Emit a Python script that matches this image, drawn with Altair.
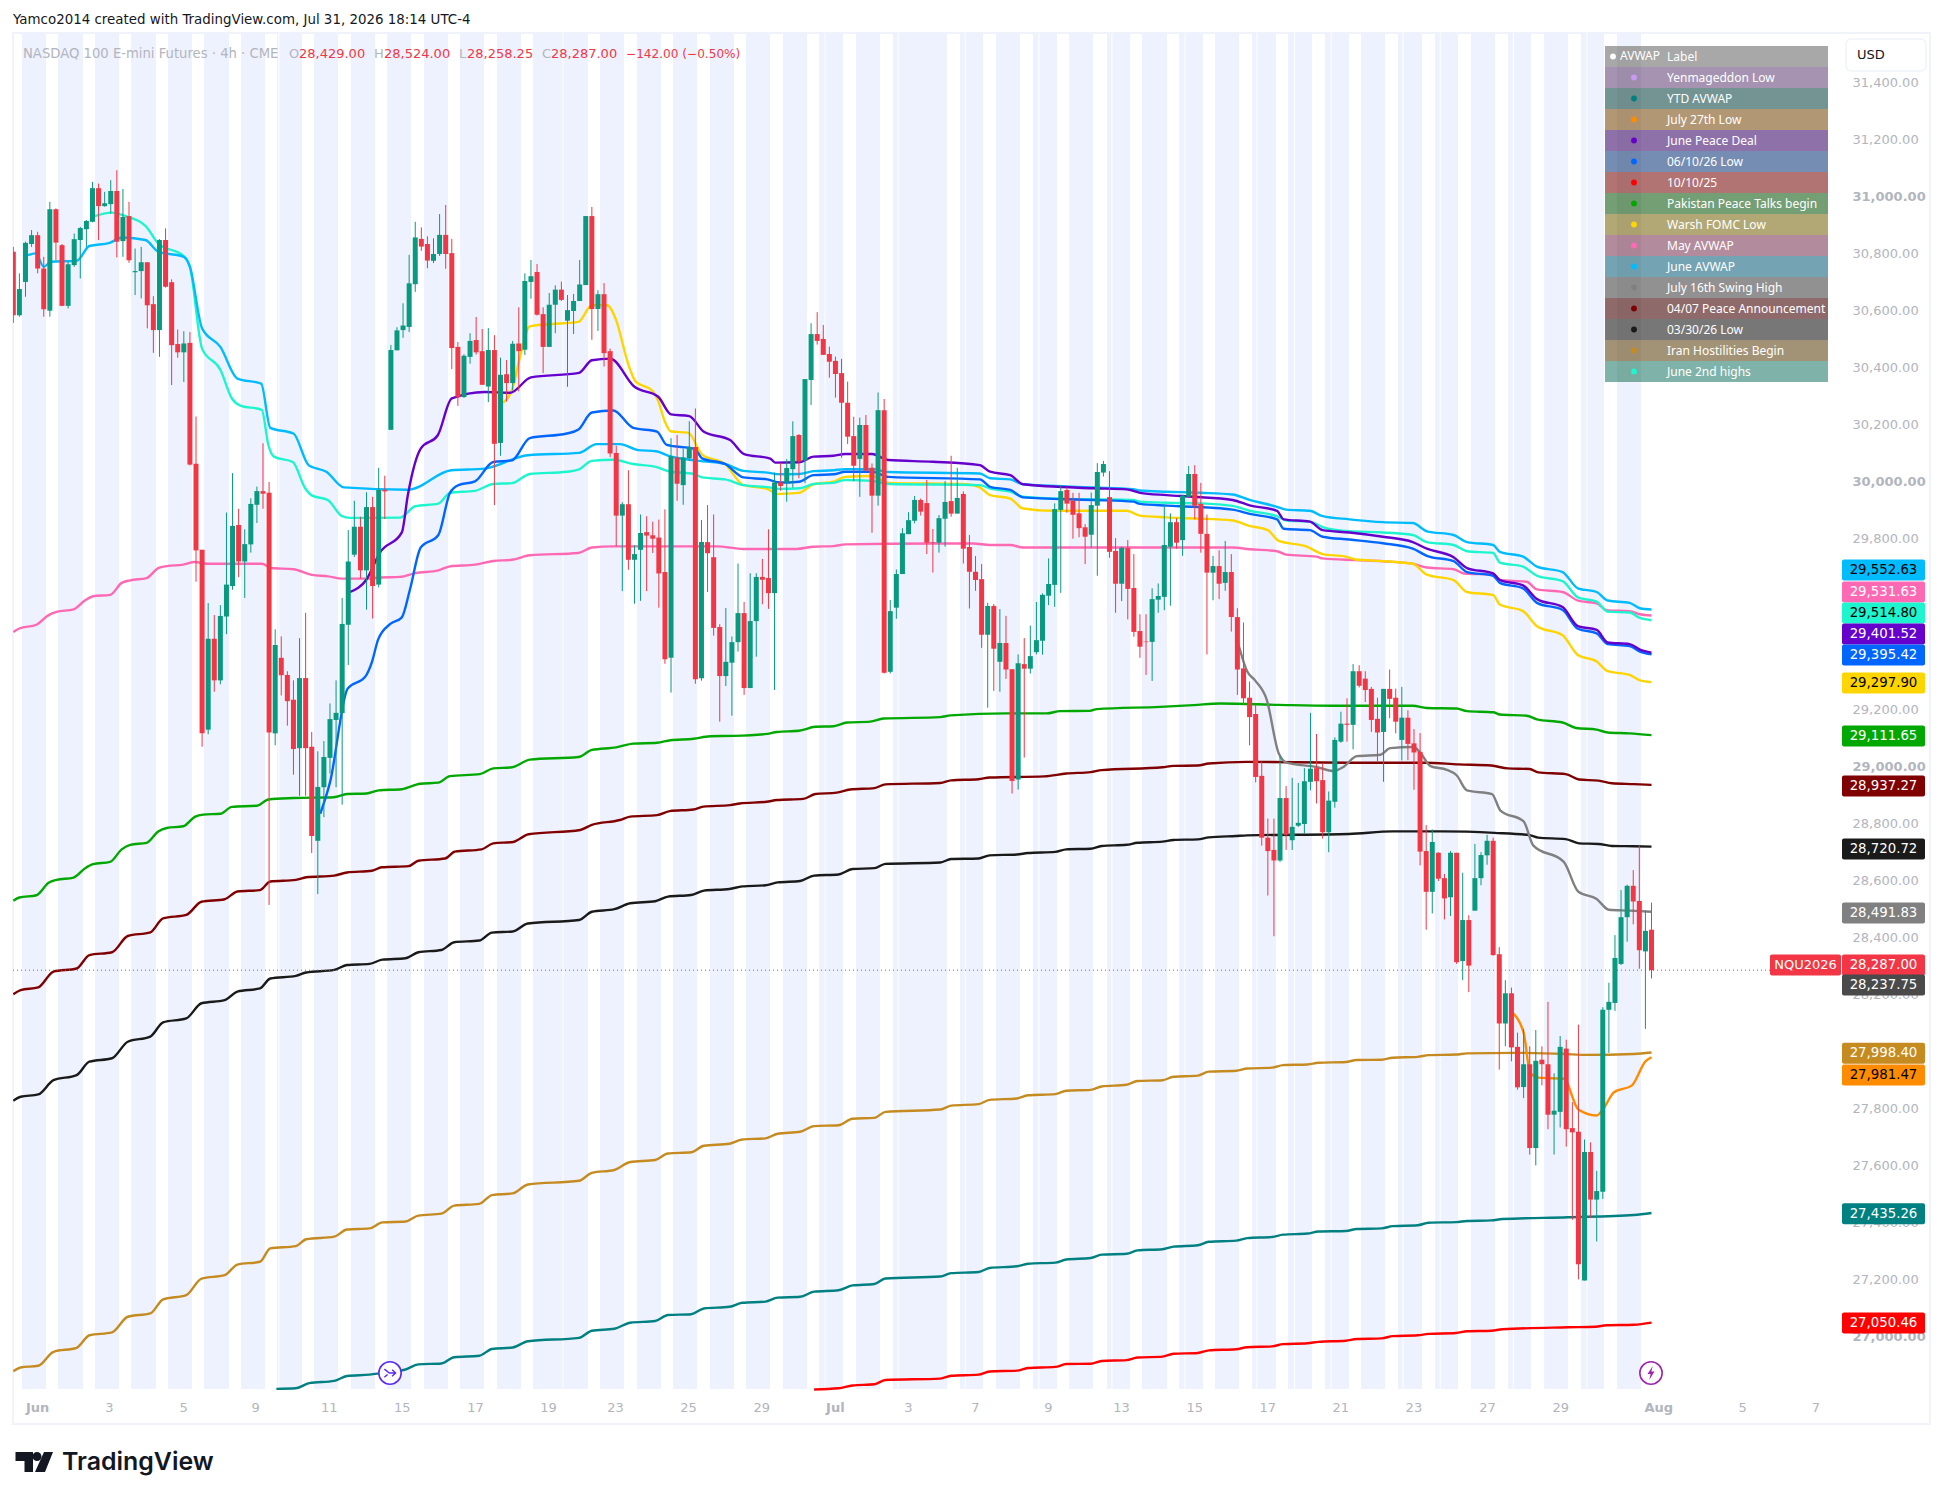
import altair as alt
import pandas as pd

# ---------- candles (NQU2026, 4h) ----------
opens = [30808,30585,30702,30835,30866,30749,30601,30957,30831,30618,
30761,30849,30887,30913,31031,30968,30975,31021,30845,30933,
30736,30740,30771,30624,30533,30849,30701,30484,30455,30488,
30064,29762,29131,29450,29304,29528,29635,29849,29721,29781,
29920,29968,29962,29118,29383,29323,29236,29066,29312,29071,
28741,28929,29032,29165,29189,29499,29745,29843,29690,29912,
29640,29972,30183,30462,30533,30544,30694,30853,30835,30776,
30800,30867,30803,30474,30298,30439,30498,30459,30335,30463,
30137,30378,30347,30486,30464,30702,30737,30589,30474,30622,
30675,30566,30600,30635,30691,30933,30607,30659,30459,30102,
29882,29922,29727,29762,29824,29813,29805,29684,29383,30086,
29989,30083,30123,29311,29789,29736,29491,29319,29366,29438,
29540,29277,29512,29667,29663,29610,29998,29998,30045,30165,
30076,30358,30519,30502,30449,30425,30382,30278,30161,30081,
30200,30050,29952,30252,29334,29559,29677,29817,29864,29937,
29926,29789,29787,29871,29933,29889,29958,29772,29685,29659,
29464,29565,29369,29435,29343,28956,29361,29345,29403,29443,
29601,29639,29902,29972,29934,29890,29841,29815,29917,30033,
29947,29758,29643,29768,29628,29477,29440,29439,29587,29597,
29773,29859,29796,29948,30028,29923,29818,29682,29705,29646,
29684,29526,29346,29243,29186,28969,28752,28709,28672,28891,
28743,28794,28800,28948,28996,28954,28771,28878,29089,29152,
29148,29336,29310,29274,29169,29123,29274,29243,29095,29173,
29083,29053,28705,28562,28699,28610,28543,28699,28319,28463,
28496,28610,28690,28741,28343,28100,28206,28018,27877,27957,
27663,27973,27957,27780,27790,28012,27733,27720,27198,27649,
27482,27510,28148,28172,28309,28473,28583,28530,28353,28429]
highs = [30825,30732,30843,30884,30878,30790,30983,30960,30835,30773,
30872,30895,30919,31053,31047,31018,31059,31094,31028,30983,
30819,30825,30771,30652,30852,30890,30711,30535,30529,30526,
30230,29762,29575,29533,29568,29893,30031,29906,29834,29943,
29984,30136,30000,29483,29458,29336,29304,29452,29541,29123,
29055,29091,29223,29304,29593,29831,29934,29878,29964,29948,
30050,30022,30481,30543,30627,30797,30913,30893,30862,30855,
30940,30972,30853,30491,30448,30522,30579,30537,30540,30515,
30436,30428,30495,30613,30732,30779,30765,30613,30663,30690,
30703,30656,30660,30779,30933,30965,30673,30698,30468,30127,
29929,30041,29778,29886,29880,29861,29868,29904,30154,30165,
30117,30213,30258,29867,29919,29886,29501,29558,29458,29714,
29579,29680,29680,29730,29834,30033,30067,30080,30213,30168,
30361,30557,30596,30551,30475,30440,30432,30352,30229,30226,
30235,30065,30314,30291,29586,29693,29838,29894,29951,29942,
30007,29835,29884,30003,30092,30050,29967,29814,29740,29712,
29576,29572,29554,29530,29343,29395,29452,29496,29579,29609,
29732,29925,29989,29981,29962,29962,29852,29963,30066,30074,
30038,29803,29773,29796,29747,29536,29536,29627,29644,29920,
29890,29873,29954,30056,30059,29997,29886,29741,29760,29793,
29747,29557,29507,29300,29222,29019,28819,28819,29038,28933,
28962,28944,28996,29190,29116,29013,28914,29104,29194,29241,
29361,29357,29336,29281,29243,29274,29342,29275,29281,29199,
29133,29119,28796,28781,28701,28625,28705,28699,28629,28480,
28730,28701,28762,28752,28368,28252,28226,28068,28081,28020,
28077,28020,28176,27925,28056,28043,27824,28096,27693,27683,
27583,28157,28243,28410,28568,28587,28638,28724,28496,28524]
lows = [30558,30580,30650,30825,30732,30580,30580,30778,30617,30609,
30755,30714,30825,30911,30849,30966,30942,30788,30790,30769,
30656,30644,30539,30453,30439,30682,30340,30436,30351,30058,
29650,29071,29115,29264,29290,29466,29622,29666,29593,29752,
29856,29906,28516,29076,29251,29145,28973,28899,28899,28698,
28554,28824,28977,28929,28868,29358,29737,29662,29552,29521,
29630,29870,30183,30462,30506,30526,30667,30811,30750,30768,
30793,30748,30396,30267,30295,30415,30447,30341,30280,29919,
30092,30282,30321,30318,30446,30643,30584,30382,30474,30522,
30635,30334,30519,30635,30691,30499,30530,30405,30087,29774,
29617,29692,29573,29583,29617,29751,29559,29362,29261,29934,
29920,30074,29292,29303,29614,29461,29159,29284,29180,29405,
29253,29277,29387,29571,29555,29270,29969,29931,29980,30013,
29996,30270,30482,30446,30366,30296,30085,30133,30003,29948,
30036,29822,29917,29328,29328,29520,29677,29817,29855,29882,
29747,29682,29752,29773,29878,29889,29714,29556,29618,29418,
29208,29267,29264,29309,28907,28921,29033,29328,29395,29394,
29568,29562,29611,29892,29801,29806,29712,29769,29671,30019,
29734,29541,29582,29518,29457,29383,29323,29302,29541,29550,
29566,29766,29741,29948,29869,29752,29395,29585,29589,29618,
29475,29253,29218,29076,28946,28724,28549,28406,28667,28709,
28709,28790,28766,28918,28872,28749,28701,28857,29085,29089,
29062,29279,29228,29123,29019,28948,29171,29118,29023,29024,
28920,28655,28429,28486,28600,28465,28477,28309,28252,28210,
28496,28585,28657,28338,27938,28020,27967,27868,27838,27640,
27602,27883,27729,27640,27735,27668,27411,27202,27198,27417,
27335,27484,27997,28144,28305,28387,28448,28292,28081,28258.25]
closes = [30585,30677,30839,30866,30749,30606,30957,30840,30618,30764,
30852,30891,30916,31031,30968,30978,31021,30843,30930,30778,
30740,30771,30620,30533,30849,30685,30480,30455,30486,30061,
29760,29118,29450,29304,29530,29640,29846,29721,29782,29923,
29968,29959,29121,29428,29322,29231,29063,29312,29066,28758,
28930,29035,29168,29190,29502,29721,29843,29690,29912,29635,
29972,29967,30463,30532,30549,30697,30858,30826,30777,30800,
30867,30800,30470,30297,30443,30495,30455,30341,30463,30134,
30376,30347,30485,30459,30705,30722,30587,30474,30622,30675,
30639,30603,30635,30693,30933,30607,30659,30452,30100,29882,
29922,29727,29747,29821,29812,29801,29679,29378,30090,29994,
30086,30123,29308,29789,29750,29488,29319,29369,29438,29540,
29277,29512,29667,29657,29610,29998,29986,30049,30161,30072,
30361,30519,30495,30446,30422,30379,30278,30159,30057,30200,
30040,29952,30252,29331,29547,29677,29820,29866,29937,29896,
29787,29787,29873,29930,29889,29944,29766,29685,29656,29464,
29565,29415,29435,29342,28951,29364,29345,29389,29445,29604,
29642,29905,29968,29924,29885,29838,29808,29919,30035,30063,
29755,29643,29769,29625,29474,29422,29438,29589,29600,29779,
29859,29787,29952,30028,29917,29818,29682,29705,29643,29684,
29526,29342,29241,29175,28965,28752,28705,28672,28891,28762,
28790,28804,28950,28994,28950,28771,28882,29095,29152,29148,
29336,29285,29270,29165,29121,29274,29239,29159,29173,29081,
29051,28703,28562,28737,28608,28539,28699,28315,28463,28303,
28610,28691,28741,28340,28100,28206,28016,27876,27957,27663,
27969,27957,27780,27794,28018,27729,27718,27255,27649,27482,
27512,28148,28176,28330,28473,28583,28528,28357,28425,28287]

# ---------- AVWAP lines: (bar number, price) ----------
june_highs = [(13,30930),(16.2,30945),(18,30936),(21.7,30899),(23.8,30837),(28,30792),(29,30755),(31,30468),(34,30394),(35.9,30293),(37.2,30269),(40.8,30253),(41.9,30128),(42.8,30089),(45.9,30070),(47.9,29979),(49,29953),(51.7,29936),(53.9,29881),(55.3,29874),(63.5,29875),(66,29915),(69.8,29924),(71.7,29962),(75.8,29969),(78.8,29993),(81.9,29996),(84.8,30028),(90.9,30036),(92.8,30043),(95,30074),(98.5,30078),(101.8,30063),(105.5,30053),(107.9,30036),(111.7,30029),(113.1,30016),(116.9,30009),(119.9,29989),(123.8,29982),(125.9,29976),(129.2,29978),(131.4,29993),(134.7,29997),(136.6,30007),(141,30004),(143.7,29993),(158.7,29989),(160.4,29977),(163.7,29966),(165.8,29948),(170.7,29942),(177.3,29939),(183.9,29937),(185,29931),(189.4,29927),(195,29925),(200.2,29916),(203,29899),(207.5,29880),(209,29865),(212.9,29861),(215,29842),(219.4,29827),(224.9,29823),(229.8,29814),(232.1,29789),(236.5,29779),(238.7,29757),(243,29751),(244.1,29717),(247.9,29703),(250.2,29671),(254.4,29652),(256.9,29595),(260,29580),(261.8,29545),(265.4,29542),(267.1,29523),(269,29515)]
june_avwap = [(2.4,30796),(3.7,30802),(5,30755),(6.2,30773),(10.4,30776),(12.5,30828),(15.8,30839),(17.9,30858),(21.7,30849),(23.8,30808),(28,30790),(29,30755),(31,30539),(34,30474),(36.8,30363),(40.7,30345),(42.2,30190),(46,30170),(48.5,30059),(51.4,30036),(54.3,29981),(64.8,29973),(71.9,30041),(77.4,30047),(84.5,30094),(92.9,30102),(95.8,30133),(99.6,30133),(102.6,30112),(105.5,30108),(107.9,30090),(111.9,30076),(116.9,30063),(119.9,30039),(123.8,30033),(125.9,30027),(129,30028),(131.4,30038),(134.7,30041),(136.6,30045),(141,30045),(143.7,30035),(158.7,30030),(160.4,30013),(163.7,30009),(165.8,29992),(177.3,29981),(183.9,29975),(185,29970),(189.4,29966),(195,29962),(200.2,29956),(203,29937),(207.5,29913),(209,29903),(212.9,29899),(215,29880),(219.4,29869),(224.9,29859),(229.8,29856),(232.1,29827),(236.5,29814),(238.7,29789),(243,29779),(244.1,29755),(247.9,29738),(250.2,29703),(254.4,29684),(256.9,29627),(260,29614),(261.8,29584),(265.4,29576),(267.1,29557),(269,29552.63)]
peace_deal = [(55.3,29614),(58,29658),(60.2,29752),(63.8,29823),(64.8,29956),(66.9,30117),(69.7,30164),(72,30293),(77.4,30316),(81.6,30313),(85,30367),(92.9,30383),(95,30427),(98,30433),(102,30334),(105.9,30299),(108,30237),(111,30231),(113.4,30176),(117.7,30147),(120,30098),(124.3,30082),(125.1,30068),(129,30069),(131.4,30089),(134.7,30092),(136.6,30098),(141,30098),(143.7,30077),(151,30071),(158.7,30059),(160.4,30036),(163.7,30024),(165.8,29992),(177.3,29978),(182.8,29974),(185,29962),(189.4,29954),(193.8,29948),(200.2,29937),(203,29918),(207.5,29899),(208.6,29869),(212.9,29861),(215,29831),(219.4,29823),(224.9,29808),(229.8,29789),(232.1,29766),(236.5,29736),(238.7,29698),(243,29679),(244.1,29656),(247.9,29637),(250.2,29589),(254.4,29561),(256.9,29494),(260,29481),(261.8,29437),(265.4,29431),(267.1,29412),(269,29401.52)]
low_0610 = [(50.4,28836),(52,28946),(54.9,29275),(57.8,29317),(58.9,29369),(59.9,29447),(61.9,29502),(63.8,29525),(65.1,29620),(66.9,29770),(69.8,29814),(71.7,29962),(73.1,29989),(75.8,30002),(78.8,30070),(81.9,30076),(84.8,30154),(90.9,30170),(92.8,30184),(95,30244),(98.5,30251),(101.8,30190),(105.7,30177),(107.3,30130),(111.9,30116),(113.1,30083),(116.9,30063),(119.9,30016),(123.8,30009),(125.9,29998),(129,30001),(131.4,30024),(134.7,30027),(136.6,30036),(141,30036),(143.7,30018),(158.7,30009),(160.4,29983),(163.7,29972),(165.8,29946),(177.3,29937),(183.9,29931),(185,29923),(189.4,29917),(193.8,29913),(200.2,29903),(203,29888),(207.5,29869),(208.6,29836),(212.9,29831),(215,29808),(219.4,29798),(224.9,29785),(229.8,29766),(232.1,29741),(236.5,29722),(238.7,29684),(243,29671),(244.1,29646),(247.9,29627),(250.2,29576),(254.4,29551),(256.9,29485),(260,29469),(261.8,29431),(265.4,29424),(267.1,29405),(269,29395.42)]
warsh = [(80.4,30278),(82,30331),(83.2,30439),(84.8,30546),(87.6,30553),(92.8,30562),(95,30620),(97.5,30620),(98.9,30573),(101,30412),(102.2,30352),(104.9,30321),(105.9,30284),(107,30211),(108,30177),(110.8,30173),(113.1,30096),(116.9,30063),(119.9,29989),(123.8,29976),(125.4,29958),(129,29962),(131.4,29992),(134.7,30001),(136.6,30018),(141,30021),(143.7,29997),(156.6,29992),(158.7,29981),(160.4,29954),(163.7,29942),(165.8,29907),(170.7,29899),(182.8,29899),(185,29882),(189.4,29876),(193.8,29872),(200.2,29865),(203,29846),(206,29831),(207.8,29793),(212.3,29774),(215,29747),(218.8,29738),(220.4,29728),(225.3,29722),(229.8,29713),(232.1,29675),(236.5,29656),(238.7,29614),(243,29603),(244.1,29570),(247.9,29547),(250.2,29494),(254.4,29462),(256.9,29393),(260,29370),(261.8,29336),(265.4,29323),(267.1,29304),(269,29297.9)]
may_avwap = [(0,29474),(1,29486),(3.8,29499),(5.8,29533),(7.1,29544),(9.9,29553),(11.8,29585),(13.1,29599),(15.9,29604),(17.8,29646),(19.2,29655),(21.9,29663),(23.8,29698),(25.2,29705),(27.9,29710),(29.8,29719),(31.8,29713),(40.8,29713),(42.4,29698),(46,29694),(49,29674),(51.7,29669),(54,29661),(58,29661),(60.2,29665),(63.5,29667),(66,29680),(69.8,29690),(71.7,29704),(75.8,29710),(78.8,29723),(81.9,29727),(84.8,29743),(92.8,29751),(95,29770),(98.5,29774),(115.5,29774),(119.9,29765),(128.6,29765),(131.4,29773),(134.7,29775),(136.6,29781),(151,29784),(157.6,29784),(160.4,29779),(163.7,29779),(165.8,29770),(183.9,29770),(200.2,29770),(203,29764),(207.5,29757),(209,29745),(214,29738),(215,29732),(220.4,29726),(224.9,29722),(229.8,29713),(232.1,29700),(236.5,29694),(238.2,29679),(243,29675),(244.1,29656),(248.5,29650),(250.2,29623),(254.4,29614),(256.9,29584),(260,29574),(261.8,29549),(265.4,29547),(267.1,29536),(269,29531.63)]
pakistan = [(0,28531),(1,28542),(3.8,28550),(5.8,28594),(7.1,28604),(9.9,28612),(11.8,28645),(13.1,28659),(15.9,28667),(17.8,28711),(19.2,28727),(21.9,28734),(23.8,28774),(25.2,28786),(27.9,28792),(29.8,28825),(31.2,28833),(34,28836),(35.9,28860),(40,28864),(41.9,28886),(46,28891),(52.6,28894),(54.8,28905),(58,28907),(60,28918),(63.8,28922),(66.8,28941),(69.8,28945),(71.7,28968),(76.6,28975),(78.8,28995),(81.9,28999),(84.8,29026),(92.8,29035),(95,29060),(99,29069),(101.8,29082),(105.7,29085),(107.9,29094),(111.7,29099),(114.4,29108),(118.3,29109),(123.8,29116),(125.4,29123),(129,29127),(131.7,29141),(134.7,29143),(136.9,29156),(140.7,29159),(142.9,29170),(152.2,29175),(153.9,29181),(163.1,29188),(169.7,29188),(171.9,29196),(176.8,29197),(177.9,29203),(188.3,29211),(193.8,29217),(198.2,29223),(207.8,29218),(216.6,29215),(229.8,29215),(232.1,29207),(237,29205),(238.7,29196),(243,29192),(244.1,29184),(248.5,29180),(250.2,29167),(254.4,29156),(256.6,29137),(260,29131),(261.8,29121),(265.4,29118),(269,29111.65)]
peace_0407 = [(0,28203),(1.2,28217),(4.1,28227),(6.6,28282),(10.4,28293),(12.5,28340),(16.2,28350),(18.8,28407),(22.5,28420),(24.6,28469),(28.4,28481),(30.9,28527),(34.7,28536),(36.8,28563),(40.5,28568),(42.2,28598),(46.4,28604),(48.1,28613),(52.7,28619),(54.8,28630),(58.9,28636),(60.5,28648),(64.9,28652),(66.5,28671),(70.9,28679),(72.5,28703),(76.9,28711),(78.8,28732),(82.1,28737),(84.6,28764),(93.1,28779),(95,28797),(99.6,28814),(101.3,28826),(105.7,28831),(107.8,28845),(111.7,28851),(113.3,28861),(117.7,28866),(119.3,28872),(123.7,28878),(125.4,28884),(129.7,28888),(131.7,28905),(135.2,28910),(137.4,28921),(141.4,28926),(143.2,28939),(152.2,28944),(154,28953),(158.5,28957),(160.3,28963),(169.3,28967),(172.9,28977),(176.9,28982),(178.7,28989),(188.7,28999),(190.5,29004),(194.5,29005),(196.3,29012),(202.6,29018),(219.3,29015),(231.9,29015),(237.3,29009),(242.7,29005),(245.4,28995),(249,28993),(250.4,28981),(254.9,28975),(257.1,28956),(260.3,28952),(262.5,28943),(266.1,28940),(269,28937.27)]
low_0330 = [(0,27829),(1.2,27843),(4.1,27851),(6.6,27901),(10.4,27919),(12.5,27966),(16.2,27978),(18.8,28036),(22.5,28054),(24.6,28104),(28.4,28118),(30.9,28171),(34.7,28182),(36.8,28212),(40.5,28223),(42.2,28258),(46.4,28267),(48.1,28279),(52.7,28288),(54.8,28305),(58.5,28309),(60.6,28324),(64.4,28329),(66.5,28350),(70.3,28358),(72.4,28385),(76.5,28391),(78.6,28419),(82,28423),(84.5,28451),(92.9,28463),(95,28492),(98.7,28501),(101.3,28522),(105.4,28529),(107.5,28545),(111.3,28551),(113.4,28566),(117.6,28572),(119.7,28581),(123.5,28585),(125.5,28595),(129.2,28600),(131.5,28619),(135.5,28623),(137.8,28642),(141.4,28645),(143.2,28660),(152.2,28665),(154,28677),(158.5,28679),(160.3,28690),(164.8,28693),(166.6,28698),(171.1,28702),(172.9,28711),(176.9,28713),(178.7,28723),(182.8,28727),(184.6,28734),(188.7,28738),(190.5,28744),(194.5,28746),(196.3,28753),(200.8,28758),(202.6,28760),(219.3,28765),(226.5,28774),(234.6,28774),(243.2,28769),(249,28761),(250.4,28752),(254.9,28747),(257.1,28732),(260.3,28730),(262.5,28723),(266.1,28722),(269,28720.72)]
iran = [(0,26880),(1.2,26893),(4.1,26899),(6.6,26948),(10.4,26962),(12.5,27006),(16.2,27016),(18.8,27071),(22.5,27083),(24.6,27132),(28.4,27147),(30.9,27205),(34.7,27217),(36.8,27254),(40.5,27264),(42.2,27311),(46.4,27319),(48.1,27343),(52.7,27352),(54.8,27377),(58.5,27381),(60.6,27402),(64.4,27405),(66.5,27426),(70.3,27433),(72.4,27461),(76.5,27467),(78.6,27498),(82,27504),(84.5,27535),(92.9,27548),(95,27576),(98.7,27586),(101.3,27614),(105.4,27621),(107.5,27644),(111.3,27648),(113.4,27671),(117.6,27678),(119.7,27693),(123.5,27697),(125.5,27713),(129.2,27720),(131.5,27740),(135.5,27743),(137.8,27766),(141.4,27769),(143.2,27790),(152.2,27798),(154,27812),(158.5,27817),(160.3,27832),(164.8,27837),(166.6,27848),(171.1,27852),(172.9,27864),(176.9,27867),(178.7,27879),(182.8,27885),(184.6,27898),(188.7,27901),(190.5,27913),(194.5,27917),(196.3,27931),(200.8,27934),(202.6,27942),(206.7,27945),(208.5,27954),(212.5,27956),(214.3,27962),(218.8,27965),(220.6,27972),(224.7,27973),(226.5,27980),(230.6,27983),(232.4,27989),(236.9,27991),(238.7,27995),(246.3,27997),(254.9,27993),(258,27990),(266.1,27993),(269,27998.4)]
ytd = [(43.2,26818),(46.4,26820),(48.6,26838),(52.7,26846),(54.8,26863),(58.5,26868),(62,26878),(64.4,26886),(66.5,26904),(70.3,26907),(72.4,26929),(76.5,26934),(78.6,26958),(82,26963),(84.5,26985),(92.9,26997),(95,27022),(98.7,27029),(101.3,27050),(105.4,27056),(107.5,27077),(111.3,27080),(113.4,27100),(117.6,27106),(119.7,27120),(123.5,27124),(125.5,27138),(129.2,27141),(131.5,27159),(135.5,27164),(137.8,27181),(141.4,27186),(143.2,27205),(152.2,27212),(154,27224),(158.5,27228),(160.3,27242),(164.8,27248),(166.6,27257),(171.1,27261),(172.9,27272),(176.9,27277),(178.7,27289),(182.8,27292),(184.6,27304),(188.7,27308),(190.5,27317),(194.5,27322),(196.3,27334),(200.8,27338),(202.6,27347),(206.7,27351),(208.5,27359),(212.5,27363),(214.3,27370),(218.8,27372),(220.6,27379),(224.7,27381),(226.5,27389),(230.6,27392),(232.4,27401),(236.9,27403),(238.7,27407),(242.7,27409),(244.5,27414),(255.3,27420),(266.1,27428),(269,27435.26)]
oct_1010 = [(131.5,26816),(135.5,26820),(137.8,26830),(141.4,26834),(143.2,26849),(152.2,26854),(154,26864),(158.5,26868),(160.3,26879),(164.8,26882),(166.6,26891),(171.1,26895),(172.9,26905),(176.9,26906),(178.7,26916),(182.8,26919),(184.6,26928),(188.7,26931),(190.5,26941),(194.5,26944),(196.3,26953),(200.8,26957),(202.6,26964),(206.7,26967),(208.5,26975),(212.5,26978),(214.3,26983),(218.8,26987),(220.6,26993),(224.7,26995),(226.5,27003),(230.6,27006),(232.4,27011),(236.9,27014),(238.7,27020),(242.7,27022),(244.5,27027),(255.3,27034),(259.8,27036),(261.6,27041),(266.1,27043),(269,27050.46)]
swing_0716 = [(201.2,29428),(202.6,29336),(203.9,29304),(205.8,29237),(207.8,29047),(209.1,29015),(214,29000),(216.8,28986),(218.4,29000),(220.6,29038),(224.5,29043),(226.1,29066),(229.9,29070),(231,29051),(232.7,29003),(235.4,28990),(237,28971),(238.7,28918),(242.8,28905),(244.2,28847),(248,28809),(249.6,28724),(254.6,28667),(257,28562),(260,28537),(262,28499),(265.5,28496),(269,28491.83)]
low_0727 = [(245.8,28144),(248,28068),(249.1,27925),(250.5,27910),(254.6,27906),(257,27798),(260,27777),(261.1,27801),(262.8,27858),(265.8,27883),(268,27967),(269,27981.47)]

line_series = [("04/07 Peace Announcement", peace_0407, "#800000"),
               ("03/30/26 Low", low_0330, "#1A1A1A"),
               ("Iran Hostilities Begin", iran, "#C68B20"),
               ("YTD AVWAP", ytd, "#008080"),
               ("10/10/25", oct_1010, "#FF0000"),
               ("Pakistan Peace Talks begin", pakistan, "#00A800"),
               ("May AVWAP", may_avwap, "#FF69B4"),
               ("July 16th Swing High", swing_0716, "#808080"),
               ("July 27th Low", low_0727, "#FF8C00"),
               ("Warsh FOMC Low", warsh, "#FFD500"),
               ("June 2nd highs", june_highs, "#1DF5CE"),
               ("June AVWAP", june_avwap, "#00BCFF"),
               ("06/10/26 Low", low_0610, "#0066FF"),
               ("June Peace Deal", peace_deal, "#6600CC")]

# ---------- session shading, in bar numbers ----------
band_start = [1.43,7.34,13.41,19.33,25.4,31.31,37.39,43.3,49.38,55.45,61.36,67.44,73.35,79.43,85.34,96.34,102.42,108.33,114.4,120.31,126.39,132.3,138.38,144.45,155.45,161.37,167.44,173.36,179.6,185.33,191.41,197.32,203.4,209.31,215.39,221.3,227.38,233.45,239.37,245.44,251.36,257.42,263.34]
band_end = [5.37,11.45,17.36,23.43,29.34,35.42,41.33,47.41,53.32,59.39,65.3,71.38,77.29,83.37,94.37,100.28,106.36,112.27,118.34,124.25,130.33,136.24,142.32,153.32,159.23,165.31,171.38,177.3,183.4,189.44,195.35,201.26,207.34,213.25,219.33,225.24,231.32,237.23,243.31,249.22,255.3,261.2,267.28]
session_breaks = [43.6,90.26,133.3,145.3,156.3,168.4,180.4,192.4,204.2,210.4,216.4,228.2,234.3,246.3,258.4]

# ---------- axes ----------
x_tick_bars = [3.9,15.7,27.9,39.7,51.8,63.8,75.8,87.8,98.8,110.8,122.8,134.9,146.9,157.9,169.9,181.9,193.9,205.9,217.9,229.9,242,254,270.1,283.9,295.9]
x_tick_text = ["Jun","3","5","9","11","15","17","19","23","25","29","Jul","3","7","9","13","15","17","21","23","27","29","Aug","5","7"]
y_ticks = list(range(27000, 31600, 200))

# ---------- legend table ----------
legend_names = ["Label","Yenmageddon Low","YTD AVWAP","July 27th Low","June Peace Deal","06/10/26 Low","10/10/25","Pakistan Peace Talks begin","Warsh FOMC Low","May AVWAP","June AVWAP","July 16th Swing High","04/07 Peace Announcement","03/30/26 Low","Iran Hostilities Begin","June 2nd highs"]
legend_fill = ["#A5A5A5","#A290AE","#708F8F","#AF9470","#8B6CA7","#7189B0","#B06E6E","#6F9B70","#AFA571","#AF8799","#70A1B1","#8D8D8D","#8B6566","#737373","#A08F72","#7BB0A5"]
legend_dot = ["#FFFFFF","#C79BF2","#008080","#FF8C00","#6600CC","#0066FF","#FF0000","#00A800","#FFD500","#FF69B4","#00BCFF","#808080","#800000","#1A1A1A","#C68B20","#1DF5CE"]

# ---------- price tags ----------
tag_text = ["29,552.63","29,531.63","29,514.80","29,401.52","29,395.42","29,297.90","29,111.65","28,937.27","28,720.72","28,491.83","28,287.00","28,237.75","27,998.40","27,981.47","27,435.26","27,050.46"]
tag_level = [29691,29614,29540,29467,29393,29295,29109,28933,28712,28488,28305,28235,27996,27919,27432,27049]
tag_fill = ["#00BCFF","#FF69B4","#1DF5CE","#6600CC","#0066FF","#FFD500","#00A800","#800000","#1A1A1A","#808080","#F23645","#4A4A4A","#C68B20","#FF8C00","#008080","#FF0000"]
tag_ink = ["#000000","#FFFFFF","#000000","#FFFFFF","#FFFFFF","#000000","#FFFFFF","#FFFFFF","#FFFFFF","#FFFFFF","#FFFFFF","#FFFFFF","#FFFFFF","#000000","#FFFFFF","#FFFFFF"]

# ---------- layout ----------
W, H = 1917, 1391
OX, OY = 13, 33
PANE_H = 1389 - OY
Y_TOP, Y_BOT = 31575.4, 26694.7
X_LO, X_HI = -0.05, 314.73
FONT = "DejaVu Sans"
BAND = "#EEF2FE"
UP, DOWN = "#089981", "#F23645"
MUTED = "#B2B5BE"

x_scale = alt.Scale(domain=[X_LO, X_HI], nice=False, zero=False, padding=0)
y_scale = alt.Scale(domain=[Y_BOT, Y_TOP], nice=False, zero=False, padding=0)

label_map = "{" + ",".join(f"'{b}':'{t}'" for b, t in zip(x_tick_bars, x_tick_text)) + "}"
x_axis = alt.Axis(values=x_tick_bars, labelExpr=label_map + "[datum.value]", title=None, grid=False, domain=False,
                  ticks=False, labelPadding=0, offset=-23, labelColor=MUTED, labelFont=FONT, labelFontSize=13,
                  labelOverlap=False, labelBound=False, labelFlush=False,
                  labelFontWeight=alt.expr("datum.value==3.9||datum.value==134.9||datum.value==270.1?'bold':'normal'"))
y_axis = alt.Axis(values=y_ticks, format=",.2f", title=None, grid=False, domain=False, ticks=False, orient="right",
                  offset=-78, labelPadding=0, labelAlign="left", labelColor=MUTED, labelFont=FONT, labelFontSize=13,
                  labelOverlap=False, labelBound=False, labelFlush=False,
                  labelFontWeight=alt.expr("datum.value%1000===0?'bold':'normal'"))

bars = pd.DataFrame({"bar": range(len(opens)), "o": opens, "h": highs, "l": lows, "c": closes})
bars["top"] = bars[["o", "c"]].max(axis=1)
bars["bot"] = bars[["o", "c"]].min(axis=1)
bars["dir"] = ["up" if c >= o else "down" for o, c in zip(opens, closes)]
dir_color = alt.Color("dir:N", scale=alt.Scale(domain=["up", "down"], range=[UP, DOWN]), legend=None)

bands = alt.Chart(pd.DataFrame({"s": band_start, "e": band_end})).mark_rect(color=BAND, clip=True).encode(
    x=alt.X("s:Q", scale=x_scale, axis=x_axis), x2="e:Q", y=alt.value(0), y2=alt.value(PANE_H))
breaks = alt.Chart(pd.DataFrame({"b": session_breaks})).mark_rule(color="#FFFFFF", strokeWidth=1).encode(
    x=alt.X("b:Q", scale=x_scale, axis=x_axis), y=alt.value(0), y2=alt.value(PANE_H))

rows = [{"name": n, "bar": b, "price": p} for n, pts, _ in line_series for b, p in pts]
lines = alt.Chart(pd.DataFrame(rows)).mark_line(strokeWidth=2.4, interpolate="monotone", clip=True).encode(
    x=alt.X("bar:Q", scale=x_scale, axis=x_axis),
    y=alt.Y("price:Q", scale=y_scale, axis=y_axis),
    color=alt.Color("name:N", scale=alt.Scale(domain=[s[0] for s in line_series], range=[s[2] for s in line_series]), legend=None),
    order=alt.Order("bar:Q"))

last_line = alt.Chart(pd.DataFrame({"p": [closes[-1]]})).mark_rule(color=DOWN, strokeWidth=1, strokeDash=[1, 3]).encode(
    y=alt.Y("p:Q", scale=y_scale, axis=y_axis), x=alt.value(0), x2=alt.value(1770 - OX))

wicks = alt.Chart(bars).mark_rule(strokeWidth=1, clip=True).encode(
    x=alt.X("bar:Q", scale=x_scale, axis=x_axis), y=alt.Y("l:Q", scale=y_scale, axis=y_axis), y2="h:Q", color=dir_color)
bodies = alt.Chart(bars).mark_bar(size=5, clip=True).encode(
    x=alt.X("bar:Q", scale=x_scale, axis=x_axis), y=alt.Y("bot:Q", scale=y_scale, axis=y_axis), y2="top:Q", color=dir_color)


def label(text, x, y, color, size=13, weight="normal", align="left", font=FONT):
    return alt.Chart(pd.DataFrame({"t": [text]})).mark_text(
        align=align, baseline="middle", color=color, fontSize=size, fontWeight=weight, font=font
    ).encode(x=alt.value(x - OX), y=alt.value(y - OY), text="t:N")


def price_y(level):
    return (Y_TOP - level) * H / (Y_TOP - Y_BOT)


# legend table
row_h = 21.0
leg = pd.DataFrame({"name": legend_names, "fill": legend_fill, "dot": legend_dot})
leg["y0"] = [46 - OY + i * row_h for i in range(len(leg))]
leg["y1"] = leg["y0"] + row_h
leg["ym"] = leg["y0"] + row_h / 2
leg["x0"], leg["x1"] = 1605 - OX, 1828 - OX
leg["xd"] = [1613 - OX if i == 0 else 1634 - OX for i in range(len(leg))]
leg["xt"] = 1667 - OX
px = lambda f: alt.X(f, scale=None, axis=None)
py = lambda f: alt.Y(f, scale=None, axis=None)
leg_rect = alt.Chart(leg).mark_rect(opacity=0.97).encode(
    x=px("x0:Q"), x2="x1:Q", y=py("y0:Q"), y2="y1:Q", color=alt.Color("fill:N", scale=None))
leg_shade = alt.Chart(pd.DataFrame({"a": [1617 - OX], "b": [1641 - OX], "c": [46 - OY], "d": [46 - OY + 16 * row_h]})).mark_rect(
    color="#000000", opacity=0.04).encode(x=px("a:Q"), x2="b:Q", y=py("c:Q"), y2="d:Q")
leg_dot = alt.Chart(leg).mark_point(filled=True, size=34, opacity=1).encode(
    x=px("xd:Q"), y=py("ym:Q"), color=alt.Color("dot:N", scale=None))
leg_txt = alt.Chart(leg).mark_text(align="left", baseline="middle", color="#FFFFFF", fontSize=12, font="Noto Sans").encode(
    x=px("xt:Q"), y=py("ym:Q"), text="name:N")
leg_head = label("AVWAP", 1620, 56, "#FFFFFF", 12, font="Noto Sans")

# price tags
tags = pd.DataFrame({"text": tag_text, "fill": tag_fill, "ink": tag_ink})
tags["ym"] = [price_y(v) for v in tag_level]
tags["y0"] = tags["ym"] - 10.5
tags["y1"] = tags["ym"] + 10.5
tags["x0"], tags["x1"], tags["xm"] = 1842 - OX, 1925 - OX, 1883.5 - OX
tag_rect = alt.Chart(tags).mark_rect(cornerRadius=2).encode(
    x=px("x0:Q"), x2="x1:Q", y=py("y0:Q"), y2="y1:Q", color=alt.Color("fill:N", scale=None))
tag_txt = alt.Chart(tags).mark_text(align="center", baseline="middle", fontSize=13.3, font=FONT).encode(
    x=px("xm:Q"), y=py("ym:Q"), text="text:N", color=alt.Color("ink:N", scale=None))
sym_rect = alt.Chart(pd.DataFrame({"a": [1770 - OX], "b": [1841 - OX], "c": [price_y(28305) - 10.5], "d": [price_y(28305) + 10.5]})).mark_rect(
    color=DOWN, cornerRadius=2).encode(x=px("a:Q"), x2="b:Q", y=py("c:Q"), y2="d:Q")
sym_txt = label("NQU2026", 1805.5, 965, "#FFFFFF", 13, align="center")

# USD button
usd_rect = alt.Chart(pd.DataFrame({"a": [1846 - OX], "b": [1926 - OX], "c": [39 - OY], "d": [71 - OY]})).mark_rect(
    fill="#FFFFFF", stroke="#F0F3FA", strokeWidth=1.5, cornerRadius=5).encode(x=px("a:Q"), x2="b:Q", y=py("c:Q"), y2="d:Q")
usd_txt = label("USD", 1857, 55, "#131722", 13)

# header text
texts = [
    label("Yamco2014 created with TradingView.com, Jul 31, 2026 18:14 UTC-4", 13, 20, "#131722", 13.4),
    label("NASDAQ 100 E-mini Futures \u00b7 4h \u00b7 CME", 23, 54, MUTED, 13.2),
    label("O", 289, 54, MUTED, 13), label("28,429.00", 299, 54, DOWN, 13),
    label("H", 374, 54, MUTED, 13), label("28,524.00", 384, 54, DOWN, 13),
    label("L", 459, 54, MUTED, 13), label("28,258.25", 467, 54, DOWN, 13),
    label("C", 542, 54, MUTED, 13), label("28,287.00", 551, 54, DOWN, 13),
    label("\u2212142.00 (\u22120.50%)", 626, 54, DOWN, 12.1),
    label("TradingView", 62, 1463, "#131722", 24.9, 600, font="Inter"),
]

# logo and event badges


def glyph(path, x, y, size, color, filled=True, stroke=1.5):
    kw = dict(shape=path, size=size, opacity=1, filled=filled, strokeWidth=stroke)
    return alt.Chart(pd.DataFrame({"k": [0]})).mark_point(color=color, **kw).encode(x=alt.value(x - OX), y=alt.value(y - OY))


logo = [
    glyph("M-0.987,-0.526L-0.066,-0.526L-0.066,0.526L-0.513,0.526L-0.513,-0.053L-0.987,-0.053Z", 34.25, 1462, 1444, "#131722"),
    glyph("M-0.092,-0.289A0.237,0.237 0 1,1 0.382,-0.289A0.237,0.237 0 1,1 -0.092,-0.289Z", 34.25, 1462, 1444, "#131722"),
    glyph("M0.513,-0.526L0.987,-0.526L0.566,0.526L0.039,0.526Z", 34.25, 1462, 1444, "#131722"),
]


def badge(x, y, color):
    return alt.Chart(pd.DataFrame({"k": [0]})).mark_point(
        shape="circle", size=500, filled=True, fill="#FFFFFF", stroke=color, strokeWidth=1.6, opacity=1
    ).encode(x=alt.value(x - OX), y=alt.value(y - OY))


badges = [
    badge(390, 1373, "#5B2BF5"),
    glyph("M-0.8,-0.55L-0.1,0L0.8,0M0.3,-0.45L0.8,0L0.3,0.45M-0.8,0.6L-0.35,0.2", 390, 1373, 196, "#5B2BF5", filled=False, stroke=1.4),
    badge(1651, 1373, "#9C27B0"),
    glyph("M0.25,-1L-0.5,0.15L-0.05,0.15L-0.25,1L0.5,-0.2L0.05,-0.2Z", 1651, 1373, 196, "#9C27B0"),
]

chart = alt.layer(
    bands, breaks, lines, last_line, wicks, bodies,
    leg_rect, leg_shade, leg_dot, leg_txt, leg_head,
    tag_rect, tag_txt, sym_rect, sym_txt, usd_rect, usd_txt,
    *texts, *logo, *badges,
).resolve_scale(color="independent").properties(
    width=W, height=H,
    padding={"left": 5, "top": 25, "right": 6, "bottom": 68},
    autosize=alt.AutoSizeParams(type="none"),
    background="#FFFFFF",
).configure_view(stroke="#F0F3FA", strokeWidth=2)

chart.save("out.html", embed_options={"renderer": "svg", "actions": False})
